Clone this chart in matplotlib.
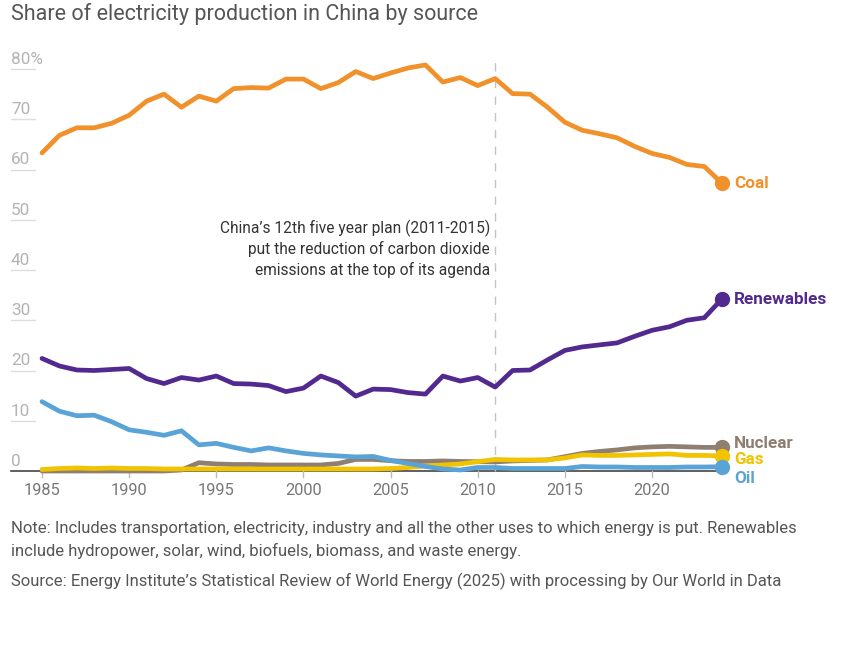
import matplotlib
matplotlib.use("Agg")
import matplotlib.pyplot as plt

years = list(range(1985, 2025))
coal = [63.3, 66.8, 68.3, 68.3, 69.2, 70.8, 73.6, 75.0, 72.4, 74.6,
        73.6, 76.1, 76.3, 76.2, 78.0, 78.0, 76.1, 77.3, 79.5, 78.1,
        79.2, 80.2, 80.8, 77.4, 78.3, 76.7, 78.1, 75.1, 75.0, 72.4,
        69.4, 67.8, 67.1, 66.3, 64.6, 63.2, 62.4, 61.0, 60.6, 57.3]
renewables = [22.4, 20.9, 20.1, 20.0, 20.2, 20.4, 18.4, 17.4, 18.6, 18.1,
              18.9, 17.4, 17.3, 17.0, 15.8, 16.5, 18.9, 17.6, 14.9, 16.3,
              16.2, 15.6, 15.3, 18.9, 17.9, 18.6, 16.7, 20.0, 20.1, 22.1,
              24.0, 24.7, 25.1, 25.5, 26.8, 28.0, 28.7, 30.0, 30.5, 34.2]
oil = [13.8, 11.9, 11.0, 11.1, 9.8, 8.2, 7.7, 7.1, 8.0, 5.2,
       5.5, 4.7, 4.0, 4.6, 4.0, 3.5, 3.2, 3.0, 2.8, 2.9,
       2.1, 1.5, 0.9, 0.4, 0.2, 0.7, 0.7, 0.5, 0.5, 0.5,
       0.5, 0.9, 0.8, 0.8, 0.7, 0.7, 0.7, 0.8, 0.8, 0.85]
gas = [0.3, 0.5, 0.6, 0.5, 0.6, 0.5, 0.5, 0.4, 0.4, 0.4,
       0.4, 0.4, 0.4, 0.4, 0.4, 0.4, 0.4, 0.4, 0.4, 0.4,
       0.5, 0.7, 1.0, 1.2, 1.4, 1.85, 2.3, 2.2, 2.2, 2.2,
       2.6, 3.2, 3.1, 3.1, 3.2, 3.3, 3.4, 3.1, 3.1, 3.0]
nuclear = [0.0, 0.0, 0.0, 0.0, 0.0, 0.0, 0.0, 0.0, 0.2, 1.65,
           1.4, 1.3, 1.3, 1.2, 1.2, 1.2, 1.2, 1.5, 2.3, 2.3,
           2.05, 1.9, 1.9, 2.0, 1.9, 1.85, 1.8, 2.0, 2.1, 2.2,
           2.85, 3.5, 3.9, 4.2, 4.6, 4.8, 4.9, 4.8, 4.7, 4.7]

series = [
    ("Coal", coal, "#f0912b"),
    ("Renewables", renewables, "#522a8f"),
    ("Oil", oil, "#5aa3d6"),
    ("Gas", gas, "#f2c300"),
    ("Nuclear", nuclear, "#8f7f72"),
]
label_pos = {"Coal": 57.3, "Renewables": 34.2, "Nuclear": 5.5, "Gas": 2.3, "Oil": -1.4}

yticks = [0, 10, 20, 30, 40, 50, 60, 70, 80]
ytick_labels = ["0", "10", "20", "30", "40", "50", "60", "70", "80%"]
xticks = [1985, 1990, 1995, 2000, 2005, 2010, 2015, 2020]

title = "Share of electricity production in China by source"
annotation = ["China\u2019s 12th five year plan (2011-2015)",
              "put the reduction of carbon dioxide",
              "emissions at the top of its agenda"]
note = ["Note: Includes transportation, electricity, industry and all the other uses to which energy is put. Renewables",
        "include hydropower, solar, wind, biofuels, biomass, and waste energy."]
source = "Source: Energy Institute\u2019s Statistical Review of World Energy (2025) with processing by Our World in Data"

FONT = ["Roboto", "DejaVu Sans"]
plt.rcParams['font.family'] = FONT

W, H = 847, 660
fig = plt.figure(figsize=(W / 100, H / 100), dpi=100)

ax_l, ax_r, ax_t, ax_b = 11, 760, 50, 480
ax = fig.add_axes([ax_l / W, 1 - ax_b / H, (ax_r - ax_l) / W, (ax_b - ax_t) / H])
px_per_year = 17.43
px_per_unit = 5.025
x0px, y0px = 42, 471
ax.set_xlim(1985 - (x0px - ax_l) / px_per_year, 1985 + (ax_r - x0px) / px_per_year)
ax.set_ylim(-(ax_b - y0px) / px_per_unit, (y0px - ax_t) / px_per_unit)
ax.axis("off")

ytr = ax.get_yaxis_transform()
gl_w = (35 - ax_l) / (ax_r - ax_l)
for v, lab in zip(yticks, ytick_labels):
    if v > 0:
        ax.plot([0, gl_w], [v, v], transform=ytr, color="#dddddd", lw=1.0, clip_on=False)
    ax.text(0, v + 0.4, lab, transform=ytr, ha="left", va="bottom",
            fontsize=12.3, color="#b3b3b3")

ax.plot([0, (726 - ax_l) / (ax_r - ax_l)], [0, 0], transform=ytr, color="#444444", lw=1.2,
        clip_on=False, zorder=1)
for xt in xticks:
    ax.plot([xt, xt], [0, -1.2], color="#bbbbbb", lw=1.0, clip_on=False)
    ax.text(xt, -2.3, str(xt), ha="center", va="top", fontsize=11.8, color="#777777")

ax.plot([2011, 2011], [0, (y0px - 55) / px_per_unit], color="#c4c4c4", lw=1.0,
        dashes=(6, 6), zorder=1)

for name, vals, col in series[::-1]:
    ax.plot(years, vals, color=col, lw=3.4, solid_capstyle="round",
            solid_joinstyle="round", zorder=3, clip_on=False)
    ax.plot([years[-1]], [vals[-1]], "o", color=col, ms=10, zorder=4, clip_on=False)
    ax.text(years[-1] + 0.7, label_pos[name], name, color=col, fontsize=12.3,
            fontweight="bold", ha="left", va="center")

for i, line in enumerate(annotation):
    ax.text(2010.7, (y0px - 228 - i * 21) / px_per_unit, line, ha="right", va="center",
            fontsize=11.2, color="#333333")

def ftext(x, y, s, **kw):
    fig.text(x / W, 1 - y / H, s, **kw)

ftext(11, 14, title, fontsize=15.5, color="#555555", va="center", ha="left")
ftext(11, 529, note[0], fontsize=12.0, color="#555555", va="center")
ftext(11, 551, note[1], fontsize=12.0, color="#555555", va="center")
ftext(11, 581, source, fontsize=12.0, color="#555555", va="center")

fig.savefig("out.png", dpi=100, facecolor="white")
